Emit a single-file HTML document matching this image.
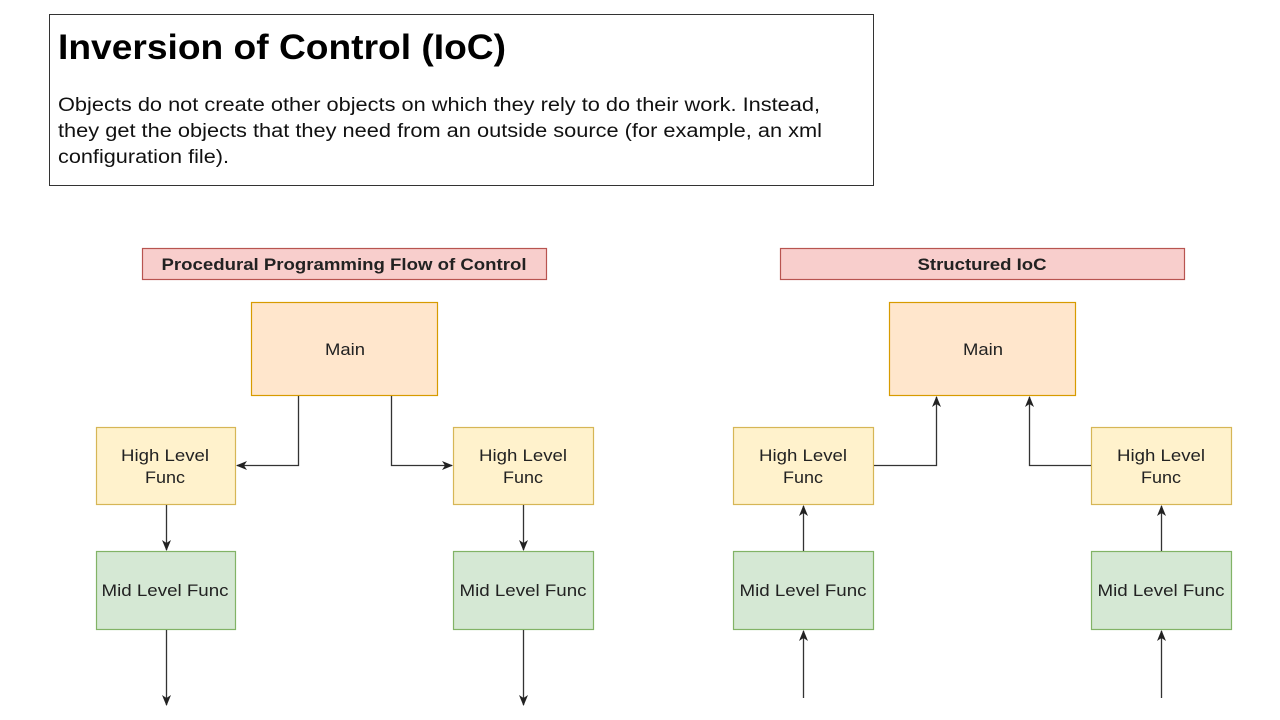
<!DOCTYPE html>
<html><head><style>
html,body{margin:0;padding:0;background:#fff;}
svg{display:block;font-family:"Liberation Sans",Arial,sans-serif;}
</style></head><body>
<svg width="1280" height="720" viewBox="0 0 1280 720" xmlns="http://www.w3.org/2000/svg">
<defs>
<marker id="a" markerWidth="12" markerHeight="12" refX="10" refY="6" orient="auto" markerUnits="userSpaceOnUse">
<path d="M0,1.5 L11,6 L0,10.5 L3,6 Z" fill="#222"/>
</marker>
</defs>
<rect x="49.5" y="14.5" width="824" height="171" fill="#fff" stroke="#333" stroke-width="1"/>
<text x="58" y="59" font-size="35" font-weight="bold" fill="#000" textLength="448" lengthAdjust="spacingAndGlyphs">Inversion of Control (IoC)</text>
<text font-size="19" fill="#111">
<tspan x="58" y="111" textLength="762" lengthAdjust="spacingAndGlyphs">Objects do not create other objects on which they rely to do their work. Instead,</tspan>
<tspan x="58" y="137" textLength="764" lengthAdjust="spacingAndGlyphs">they get the objects that they need from an outside source (for example, an xml</tspan>
<tspan x="58" y="163" textLength="171" lengthAdjust="spacingAndGlyphs">configuration file).</tspan>
</text>

<g stroke-width="1.2">
<rect x="142.5" y="248.5" width="404" height="31" fill="#f8cecc" stroke="#b85450"/>
<rect x="780.5" y="248.5" width="404" height="31" fill="#f8cecc" stroke="#b85450"/>
<rect x="251.5" y="302.5" width="186" height="93" fill="#ffe6cc" stroke="#d79b00"/>
<rect x="889.5" y="302.5" width="186" height="93" fill="#ffe6cc" stroke="#d79b00"/>
<rect x="96.5" y="427.5" width="139" height="77" fill="#fff2cc" stroke="#d6b656"/>
<rect x="453.5" y="427.5" width="140" height="77" fill="#fff2cc" stroke="#d6b656"/>
<rect x="733.5" y="427.5" width="140" height="77" fill="#fff2cc" stroke="#d6b656"/>
<rect x="1091.5" y="427.5" width="140" height="77" fill="#fff2cc" stroke="#d6b656"/>
<rect x="96.5" y="551.5" width="139" height="78" fill="#d5e8d4" stroke="#82b366"/>
<rect x="453.5" y="551.5" width="140" height="78" fill="#d5e8d4" stroke="#82b366"/>
<rect x="733.5" y="551.5" width="140" height="78" fill="#d5e8d4" stroke="#82b366"/>
<rect x="1091.5" y="551.5" width="140" height="78" fill="#d5e8d4" stroke="#82b366"/>
</g>

<g font-size="17" fill="#222" text-anchor="middle" lengthAdjust="spacingAndGlyphs">
<text x="344" y="270" font-weight="bold" textLength="365" lengthAdjust="spacingAndGlyphs">Procedural Programming Flow of Control</text>
<text x="982" y="270" font-weight="bold" textLength="129" lengthAdjust="spacingAndGlyphs">Structured IoC</text>
<text x="345" y="355" textLength="40" lengthAdjust="spacingAndGlyphs">Main</text>
<text x="983" y="355" textLength="40" lengthAdjust="spacingAndGlyphs">Main</text>
<text x="165" y="461" textLength="88" lengthAdjust="spacingAndGlyphs">High Level</text><text x="165" y="483" textLength="40" lengthAdjust="spacingAndGlyphs">Func</text>
<text x="523" y="461" textLength="88" lengthAdjust="spacingAndGlyphs">High Level</text><text x="523" y="483" textLength="40" lengthAdjust="spacingAndGlyphs">Func</text>
<text x="803" y="461" textLength="88" lengthAdjust="spacingAndGlyphs">High Level</text><text x="803" y="483" textLength="40" lengthAdjust="spacingAndGlyphs">Func</text>
<text x="1161" y="461" textLength="88" lengthAdjust="spacingAndGlyphs">High Level</text><text x="1161" y="483" textLength="40" lengthAdjust="spacingAndGlyphs">Func</text>
<text x="165" y="596" textLength="127" lengthAdjust="spacingAndGlyphs">Mid Level Func</text>
<text x="523" y="596" textLength="127" lengthAdjust="spacingAndGlyphs">Mid Level Func</text>
<text x="803" y="596" textLength="127" lengthAdjust="spacingAndGlyphs">Mid Level Func</text>
<text x="1161" y="596" textLength="127" lengthAdjust="spacingAndGlyphs">Mid Level Func</text>
</g>

<g stroke="#333" stroke-width="1.3" fill="none" marker-end="url(#a)">
<path d="M298.5,396 V465.5 H237"/>
<path d="M391.5,396 V465.5 H452"/>
<path d="M166.5,505 V550"/>
<path d="M523.5,505 V550"/>
<path d="M166.5,630 V705"/>
<path d="M523.5,630 V705"/>
<path d="M874,465.5 H936.5 V397"/>
<path d="M1091,465.5 H1029.5 V397"/>
<path d="M803.5,551 V506"/>
<path d="M1161.5,551 V506"/>
<path d="M803.5,698 V631"/>
<path d="M1161.5,698 V631"/>
</g>
</svg>
</body></html>
